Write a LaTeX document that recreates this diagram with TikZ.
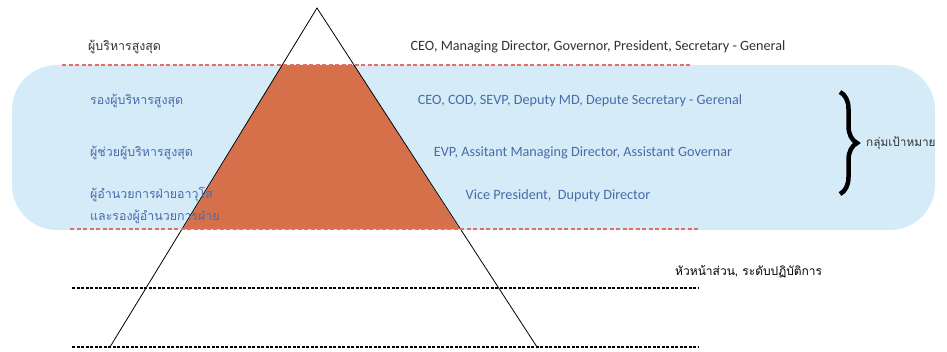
\documentclass[tikz,border=0pt]{standalone}
\usepackage{fontspec}
\setmainfont{Carlito}
\newfontfamily\thai[Script=Thai]{Loma}
\usetikzlibrary{decorations.pathreplacing}
\definecolor{bandblue}{RGB}{213,236,248}
\definecolor{orangefill}{RGB}{214,112,74}
\definecolor{textblue}{RGB}{74,106,168}
\definecolor{reddash}{RGB}{226,110,100}
\definecolor{darktext}{RGB}{50,50,50}
\tikzset{
  lbl/.style={anchor=west, inner sep=0pt, font=\thai\fontsize{12.4}{15}\selectfont},
  eng/.style={anchor=center, inner sep=0pt, font=\fontsize{14.2}{16}\selectfont},
  redline/.style={draw=reddash, line width=1.1pt, dash pattern=on 4pt off 2.5pt},
  blackline/.style={draw=black, line width=1.8pt, dash pattern=on 3pt off 1.5pt},
}
\begin{document}
\begin{tikzpicture}[x=1pt,y=-1pt]
\useasboundingbox (0,0) rectangle (947,351);
% band
\fill[bandblue, rounded corners=45pt] (12,65) rectangle (935,230);
% orange trapezoid
\fill[orangefill] (282.2,65) -- (354,65) -- (459.5,229) -- (183,229) -- cycle;
% triangle outline
\coordinate (apex) at (317,8);
\coordinate (bl) at (110,347);
\coordinate (br) at (537,347);
\draw[line width=0.8pt] (bl) -- (apex) -- (br);
% dashed lines
\draw[redline] (62,65) -- (692,65);
\draw[redline] (70,229) -- (698,229);
\draw[blackline] (72,288) -- (698,288);
\draw[blackline] (72,347) -- (698,347);
% labels
\node[lbl, text=darktext] (l1) at (88,47) {ผู้บริหารสูงสุด};
\node[eng, text=darktext] (e1) at (598,47) {CEO, Managing Director, Governor, President, Secretary - General};
\node[lbl, text=textblue] (l2) at (90,101) {รองผู้บริหารสูงสุด};
\node[eng, text=textblue] (e2) at (580,101) {CEO, COD, SEVP, Deputy MD, Depute Secretary - Gerenal};
\node[lbl, text=textblue] (l3) at (90,153) {ผู้ช่วยผู้บริหารสูงสุด};
\node[eng, text=textblue] (e3) at (583,153) {EVP, Assitant Managing Director, Assistant Governar};
\node[lbl, text=textblue] (l4) at (90,195) {ผู้อำนวยการฝ่ายอาวุโส};
\node[lbl, text=textblue] (l5) at (90,217) {และรองผู้อำนวยการฝ่าย};
\node[eng, text=textblue] (e4) at (558,196) {Vice President,\ \ Duputy Director};
% brace
\draw[line width=4.5pt, decorate, decoration={brace, amplitude=17pt}] (840,92) -- (840,194);
\node[lbl, text=darktext, font=\thai\fontsize{11.8}{14}\selectfont] (t) at (866,143) {กลุ่มเป้าหมาย};
\node[lbl, text=black, font=\thai\fontsize{12}{14}\selectfont] (h) at (675,272) {หัวหน้าส่วน, ระดับปฏิบัติการ};
\end{tikzpicture}
\end{document}
